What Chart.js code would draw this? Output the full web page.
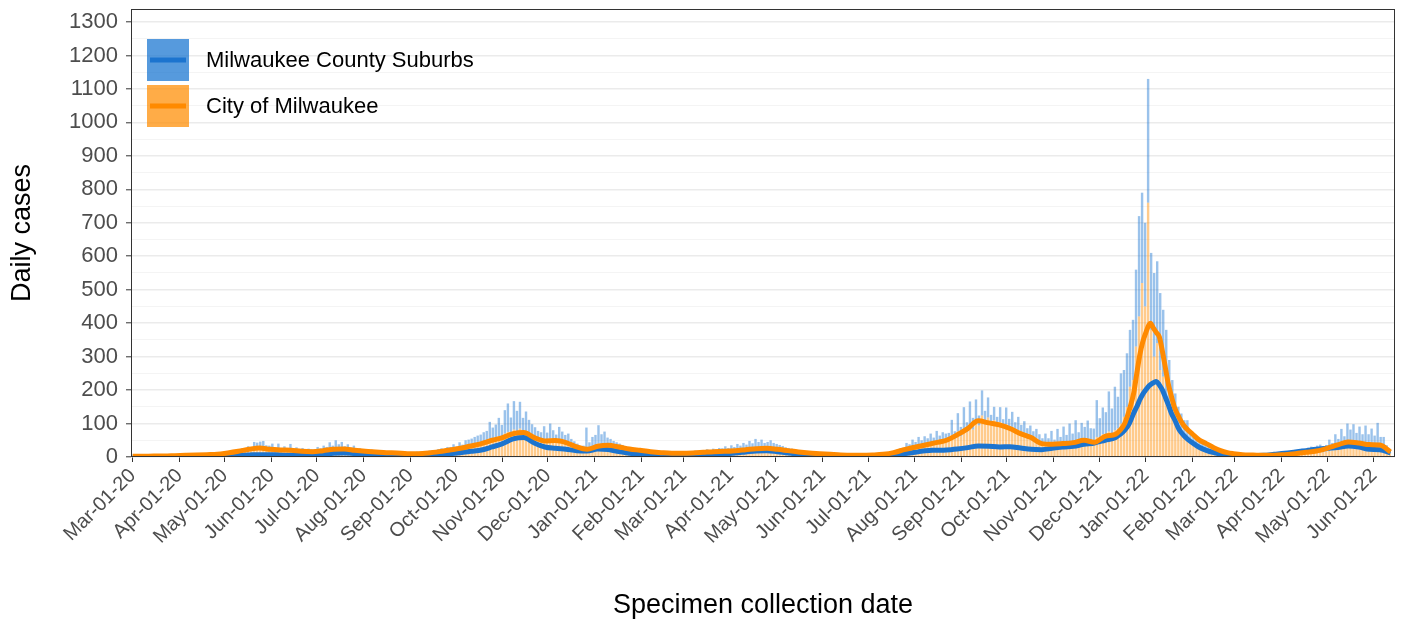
<!DOCTYPE html>
<html lang="en">
<head>
<meta charset="UTF-8">
<title>Daily cases by specimen collection date</title>
<script src="https://cdn.jsdelivr.net/npm/chart.js"></script>
<style>
  html, body { margin: 0; padding: 0; background: #fff; }
</style>
</head>
<body>
<canvas id="chart" width="1405" height="622"></canvas>
<script>
  // x axis = days since Mar-01-2020
  const monthDays = [0, 31, 61, 92, 122, 153, 184, 214, 245, 275, 306, 337, 365, 396,
    426, 457, 487, 518, 549, 579, 610, 640, 671, 702, 730, 761, 791, 822];
  const monthLabels = ['Mar-01-20', 'Apr-01-20', 'May-01-20', 'Jun-01-20', 'Jul-01-20',
    'Aug-01-20', 'Sep-01-20', 'Oct-01-20', 'Nov-01-20', 'Dec-01-20', 'Jan-01-21',
    'Feb-01-21', 'Mar-01-21', 'Apr-01-21', 'May-01-21', 'Jun-01-21', 'Jul-01-21',
    'Aug-01-21', 'Sep-01-21', 'Oct-01-21', 'Nov-01-21', 'Dec-01-21', 'Jan-01-22',
    'Feb-01-22', 'Mar-01-22', 'Apr-01-22', 'May-01-22', 'Jun-01-22'];
  const yTicks = [0, 50, 100, 150, 200, 250, 300, 350, 400, 450, 500, 550, 600, 650, 700,
    750, 800, 850, 900, 950, 1000, 1050, 1100, 1150, 1200, 1250, 1300];

  // daily cases, one value per 2-day step (day 0, 2, 4, ...)
  const cityBars = [
    0, 0, 1, 1, 2, 2, 2, 3, 3, 2, 3, 4, 3, 4, 3,
    4, 5, 3, 5, 6, 4, 6, 5, 7, 6, 5, 7, 8, 6, 7,
    8, 10, 9, 12, 15, 14, 18, 16, 22, 20, 25, 28, 24, 30, 26,
    22, 24, 20, 26, 18, 22, 19, 24, 17, 20, 16, 19, 15, 18, 17,
    16, 20, 18, 22, 20, 26, 22, 28, 24, 25, 22, 24, 20, 22, 18,
    18, 16, 17, 15, 16, 14, 15, 13, 14, 12, 13, 12, 12, 11, 12,
    10, 11, 9, 10, 11, 10, 12, 11, 13, 14, 13, 16, 17, 15, 20,
    20, 24, 22, 28, 25, 30, 34, 31, 38, 36, 42, 40, 48, 45, 52,
    55, 62, 58, 70, 75, 68, 82, 78, 85, 72, 76, 66, 58, 54, 48,
    46, 52, 48, 55, 50, 45, 52, 48, 44, 40, 36, 32, 28, 22, 20,
    28, 24, 32, 36, 40, 38, 36, 34, 32, 30, 28, 26, 24, 22, 20,
    20, 18, 17, 16, 15, 15, 14, 13, 13, 12, 12, 11, 11, 11, 10,
    10, 11, 10, 12, 11, 12, 13, 12, 14, 13, 15, 14, 16, 15, 17,
    16, 18, 17, 19, 18, 21, 20, 22, 21, 24, 23, 26, 25, 26, 24,
    25, 26, 24, 23, 22, 21, 19, 18, 17, 16, 15, 14, 13, 12, 12,
    11, 10, 9, 9, 8, 8, 7, 7, 6, 6, 6, 5, 5, 5, 5,
    5, 5, 5, 5, 6, 6, 6, 7, 7, 8, 9, 10, 12, 14, 16,
    18, 22, 26, 24, 30, 28, 34, 32, 38, 36, 42, 40, 46, 44, 50,
    52, 66, 55, 76, 62, 84, 74, 96, 82, 112, 94, 124, 100, 118, 96,
    110, 92, 104, 88, 98, 84, 90, 76, 80, 70, 72, 62, 64, 55, 56,
    44, 38, 42, 36, 40, 34, 42, 38, 46, 40, 45, 42, 48, 44, 52,
    50, 54, 44, 40, 60, 56, 68, 64, 76, 70, 80, 85, 100, 120, 150,
    210, 230, 330, 420, 520, 450, 760, 380, 300, 340, 260, 240, 180, 160, 120,
    110, 85, 80, 65, 60, 45, 40, 34, 30, 26, 22, 20, 17, 15, 13,
    12, 10, 9, 8, 7, 7, 6, 6, 5, 5, 5, 5, 4, 5, 4,
    5, 4, 5, 5, 5, 6, 7, 6, 8, 9, 8, 10, 11, 10, 12,
    13, 12, 14, 15, 14, 16, 22, 20, 28, 26, 34, 32, 40, 44, 48,
    42, 46, 40, 44, 38, 40, 36, 42, 34, 30, 20, 12
  ];
  const suburbBars = [
    0, 0, 0, 1, 1, 1, 1, 1, 2, 1, 2, 2, 1, 2, 1,
    1, 2, 1, 2, 2, 1, 2, 2, 3, 2, 2, 3, 2, 2, 3,
    3, 4, 2, 5, 6, 4, 8, 6, 10, 8, 20, 15, 22, 18, 9,
    12, 16, 8, 14, 6, 10, 7, 15, 5, 9, 4, 8, 5, 7, 6,
    6, 10, 8, 12, 10, 18, 12, 22, 14, 20, 10, 14, 8, 12, 7,
    8, 6, 7, 5, 6, 5, 6, 4, 5, 4, 5, 4, 4, 3, 4,
    4, 4, 3, 4, 5, 4, 5, 4, 6, 6, 5, 8, 9, 7, 10,
    10, 14, 9, 16, 12, 20, 18, 24, 22, 28, 25, 34, 30, 60, 36,
    42, 55, 38, 70, 85, 50, 85, 60, 80, 45, 60, 45, 40, 35, 30,
    28, 40, 25, 45, 30, 22, 38, 28, 22, 30, 18, 15, 12, 10, 14,
    60, 20, 28, 30, 55, 30, 40, 24, 22, 18, 16, 14, 12, 10, 9,
    9, 8, 8, 7, 6, 6, 6, 5, 5, 5, 5, 5, 4, 5, 4,
    5, 5, 4, 6, 5, 6, 6, 5, 7, 6, 8, 7, 9, 8, 10,
    10, 14, 10, 16, 12, 18, 14, 20, 16, 24, 18, 28, 20, 26, 18,
    20, 24, 18, 16, 14, 12, 10, 9, 8, 7, 6, 5, 5, 4, 4,
    4, 4, 3, 3, 3, 3, 3, 2, 2, 2, 2, 2, 2, 2, 2,
    2, 2, 2, 2, 3, 3, 3, 3, 4, 4, 5, 6, 7, 8, 10,
    10, 20, 12, 28, 15, 32, 16, 30, 18, 34, 16, 38, 18, 30, 20,
    20, 45, 22, 55, 28, 65, 30, 70, 35, 60, 30, 75, 38, 60, 30,
    40, 28, 45, 25, 50, 30, 45, 28, 40, 26, 35, 24, 30, 22, 28,
    24, 18, 28, 20, 38, 18, 42, 22, 45, 26, 55, 28, 62, 30, 50,
    40, 55, 42, 45, 110, 60, 80, 70, 120, 75, 130, 95, 150, 140, 160,
    170, 180, 230, 300, 270, 250, 370, 230, 250, 245, 230, 200, 200, 130, 110,
    80, 65, 50, 45, 50, 30, 30, 24, 20, 16, 14, 12, 10, 8, 7,
    6, 5, 4, 4, 3, 3, 3, 3, 2, 3, 2, 3, 2, 3, 3,
    3, 3, 3, 4, 4, 6, 8, 7, 10, 11, 9, 13, 14, 12, 16,
    18, 14, 20, 22, 18, 20, 30, 22, 40, 28, 50, 30, 60, 38, 50,
    30, 45, 28, 50, 30, 45, 28, 60, 26, 30, 15, 8
  ];

  // 7-day averages
  const avgDays = [
    0, 7, 14, 21, 28, 35, 42, 49, 56, 63, 70, 77, 84, 91, 98, 105, 112, 119, 126, 133,
    140, 147, 154, 161, 168, 175, 182, 189, 196, 203, 210, 217, 224, 231, 238, 245, 252, 259, 266, 273,
    280, 287, 294, 301, 308, 315, 322, 329, 336, 343, 350, 357, 364, 371, 378, 385, 392, 399, 406, 413,
    420, 427, 434, 441, 448, 455, 462, 469, 476, 483, 490, 497, 504, 511, 518, 525, 532, 539, 546, 553,
    560, 567, 574, 581, 588, 595, 602, 609, 616, 623, 630, 637, 644,
    651, 654, 657, 660, 663, 665, 667, 669, 671, 673, 674, 676, 678, 680, 682, 684, 686, 688, 690, 693,
    696, 699, 702, 706, 711, 716, 720, 725, 729,
    735, 742, 749, 756, 763, 770, 777, 784, 791, 798, 805, 812, 819, 826, 833
  ];
  const cityAvg = [
    2, 2, 3, 3, 4, 5, 6, 7, 8, 12, 17, 23, 27, 23, 21, 20, 17, 16, 19, 23,
    24, 20, 17, 15, 13, 12, 10, 10, 12, 16, 21, 26, 33, 40, 50, 58, 70, 73, 58, 48,
    49, 43, 30, 23, 32, 35, 30, 24, 20, 16, 13, 11, 11, 12, 14, 16, 17, 19, 22, 25,
    26, 23, 19, 15, 12, 10, 8, 6, 5, 5, 6, 8, 13, 22, 29, 36, 43, 50, 66, 85,
    108, 102, 96, 85, 70, 58, 40, 38, 40, 43, 50, 44, 62,
    68, 80, 100, 140, 192, 250, 305, 345, 372, 395, 400, 385, 372, 358, 315, 265, 215, 180, 148, 118,
    95, 80, 68, 52, 40, 28, 20, 13, 10,
    7, 6, 5, 5, 7, 10, 14, 18, 26, 36, 45, 42, 37, 36, 15
  ];
  const suburbAvg = [
    0, 0, 1, 1, 1, 2, 2, 2, 3, 4, 5, 6, 7, 7, 6, 5, 5, 6, 8, 11,
    12, 10, 8, 6, 5, 5, 4, 4, 6, 8, 10, 13, 17, 21, 30, 40, 54, 58, 42, 30,
    26, 23, 19, 18, 24, 22, 16, 11, 8, 6, 5, 5, 5, 6, 7, 9, 10, 12, 15, 18,
    19, 16, 12, 9, 6, 5, 4, 3, 3, 3, 3, 4, 6, 10, 14, 19, 20, 21, 24, 28,
    33, 32, 30, 31, 27, 23, 22, 26, 30, 32, 38, 42, 50,
    58, 68, 80, 100, 132, 150, 171, 188, 201, 212, 216, 222, 226, 215, 200, 178, 155, 130, 112, 82,
    65, 52, 42, 30, 20, 13, 9, 6, 5,
    4, 4, 5, 8, 11, 15, 19, 23, 26, 28, 33, 30, 23, 22, 12
  ];

  const seriesNames = ['Milwaukee County Suburbs', 'City of Milwaukee'];
  const blueLine = '#1c74cf';
  const orangeLine = '#ff8a00';
  const fontFamily = '"Liberation Sans", Arial, sans-serif';

  const barPts = arr => arr.map((v, i) => ({ x: i * 2 + 0.5, y: v }));
  const avgPts = arr => arr.map((v, i) => ({ x: avgDays[i], y: v }));

  // panel border + legend inside the panel
  const panelExtras = {
    id: 'panelExtras',
    afterDatasetsDraw(chart) {
      const { ctx, chartArea: a } = chart;
      ctx.save();
      ctx.strokeStyle = '#333333';
      ctx.lineWidth = 1;
      ctx.strokeRect(a.left + 0.5, a.top + 0.5, a.right - a.left - 1, a.bottom - a.top - 1);

      const keys = [
        { fill: 'rgba(30,120,210,0.75)', line: blueLine },
        { fill: 'rgba(255,140,0,0.72)', line: orangeLine }
      ];
      const kx = a.left + 16, ky = a.top + 30, ks = 42, gap = 4;
      keys.forEach((k, i) => {
        const y = ky + i * (ks + gap);
        ctx.fillStyle = k.fill;
        ctx.fillRect(kx, y, ks, ks);
        ctx.strokeStyle = k.line;
        ctx.lineWidth = 5;
        ctx.beginPath();
        ctx.moveTo(kx + 3, y + ks / 2);
        ctx.lineTo(kx + ks - 3, y + ks / 2);
        ctx.stroke();
        ctx.fillStyle = '#000';
        ctx.font = '22px ' + fontFamily;
        ctx.textBaseline = 'middle';
        ctx.fillText(seriesNames[i], kx + ks + 17, y + ks / 2 + 1);
      });
      ctx.restore();
    }
  };

  new Chart(document.getElementById('chart'), {
    type: 'bar',
    data: {
      datasets: [
        { type: 'line', label: seriesNames[1], data: avgPts(cityAvg), stack: 'avgCity',
          borderColor: orangeLine, borderWidth: 5, pointRadius: 0,
          cubicInterpolationMode: 'monotone', order: 0 },
        { type: 'line', label: seriesNames[0], data: avgPts(suburbAvg), stack: 'avgSub',
          borderColor: blueLine, borderWidth: 5, pointRadius: 0,
          cubicInterpolationMode: 'monotone', order: 0 },
        { label: seriesNames[1], data: barPts(cityBars), stack: 'bars',
          backgroundColor: 'rgba(255,140,0,0.45)', borderWidth: 0,
          barPercentage: 0.8, categoryPercentage: 1, order: 1 },
        { label: seriesNames[0], data: barPts(suburbBars), stack: 'bars',
          backgroundColor: 'rgba(30,120,210,0.45)', borderWidth: 0,
          barPercentage: 0.8, categoryPercentage: 1, order: 1 }
      ]
    },
    options: {
      responsive: false,
      animation: false,
      layout: { padding: { top: 9, right: 10, left: 2, bottom: 0 } },
      plugins: { legend: { display: false }, tooltip: { enabled: false } },
      scales: {
        x: {
          type: 'linear',
          stacked: true,
          offset: false,
          min: -1.1,
          max: 836,
          afterBuildTicks: s => { s.ticks = monthDays.map(v => ({ value: v })); },
          afterFit: s => {
            s.height = 622 - 457;
            s.paddingLeft = 0;
            s.paddingRight = 0;
          },
          grid: { drawOnChartArea: false, offset: false, tickColor: '#333333', tickLength: 5, tickWidth: 1 },
          border: { display: false },
          ticks: {
            autoSkip: false,
            maxRotation: 45,
            minRotation: 45,
            padding: 2,
            color: '#4d4d4d',
            font: { family: fontFamily, size: 20 },
            callback: v => monthLabels[monthDays.indexOf(v)]
          },
          title: {
            display: true,
            text: 'Specimen collection date',
            color: '#000',
            font: { family: fontFamily, size: 27 },
            padding: { top: 4, bottom: 0 }
          }
        },
        y: {
          stacked: true,
          min: 0,
          max: 1339,
          afterBuildTicks: s => { s.ticks = yTicks.map(v => ({ value: v })); },
          afterFit: s => {
            s.width = 131 - 2;
            s.paddingTop = 0;
            s.paddingBottom = 0;
          },
          grid: {
            color: c => (c.tick && c.tick.value % 100 === 0) ? '#ebebeb' : '#f4f4f4',
            lineWidth: c => (c.tick && c.tick.value % 100 === 0) ? 1.6 : 1,
            tickColor: c => (c.tick && c.tick.value % 100 === 0) ? '#333333' : 'rgba(0,0,0,0)',
            tickLength: 5,
            tickWidth: 1
          },
          border: { display: false },
          ticks: {
            autoSkip: false,
            padding: 8,
            color: '#4d4d4d',
            font: { family: fontFamily, size: 22 },
            callback: v => (v % 100 === 0 ? v : '')
          },
          title: {
            display: true,
            text: 'Daily cases',
            color: '#000',
            font: { family: fontFamily, size: 27 },
            padding: { top: 4, bottom: 4 }
          }
        }
      }
    },
    plugins: [panelExtras]
  });
</script>
</body>
</html>
